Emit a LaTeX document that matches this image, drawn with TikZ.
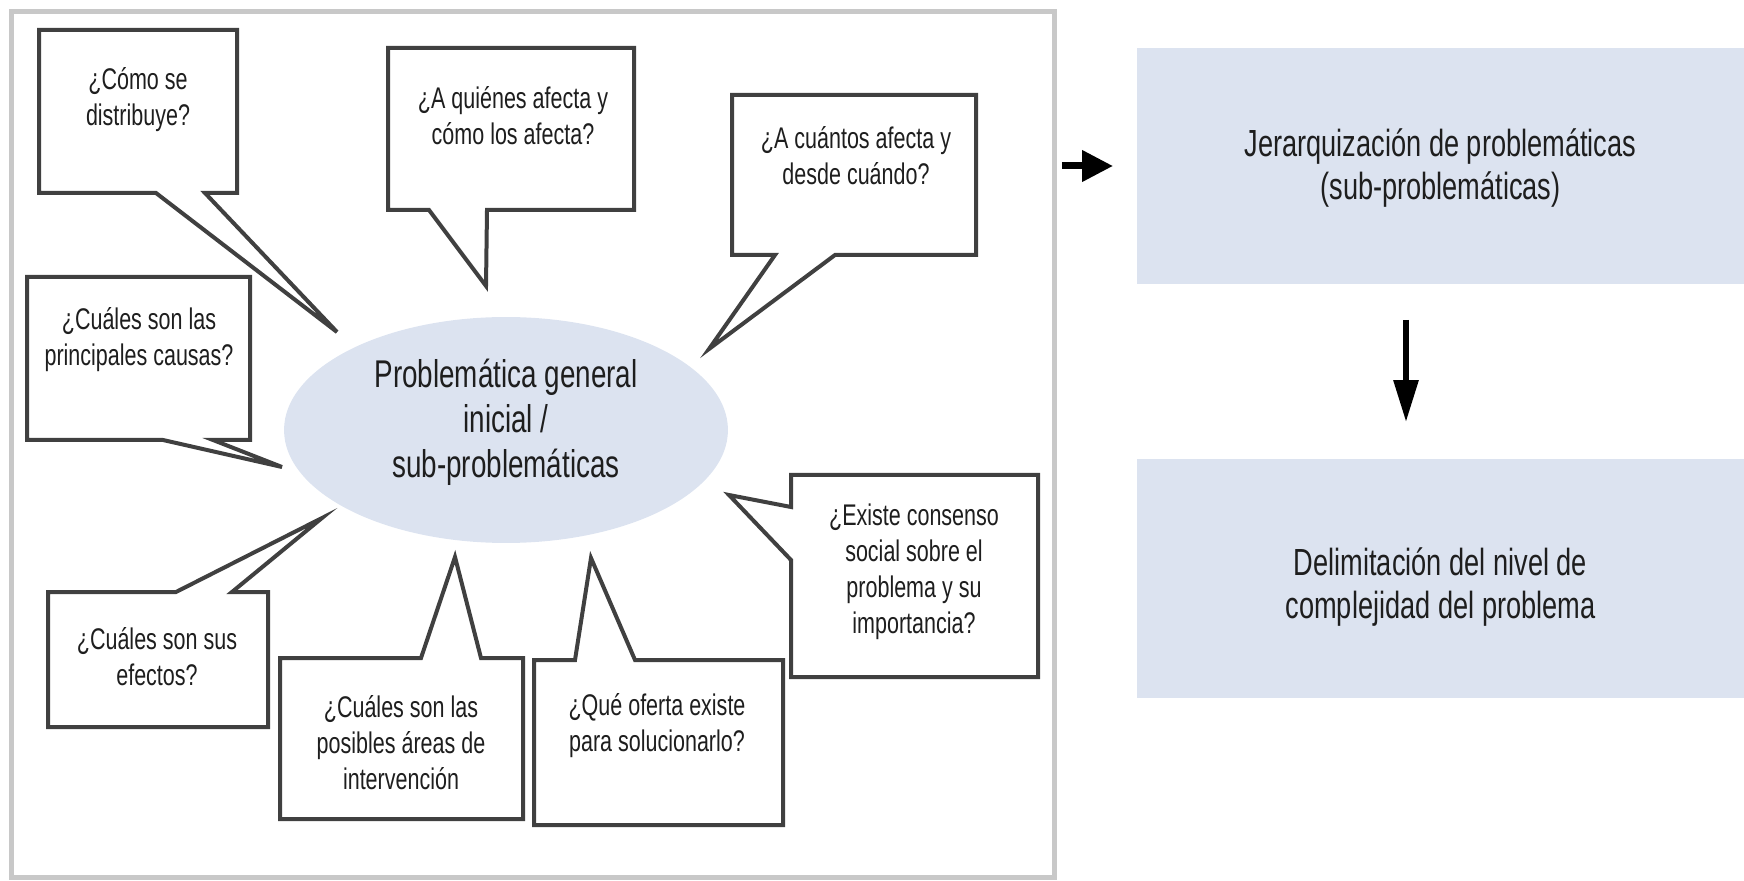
\documentclass[tikz,border=0pt]{standalone}
\usepackage{fontspec}
\setmainfont{Liberation Sans}[FakeStretch=0.72]
\usetikzlibrary{arrows.meta,shapes.geometric}
\definecolor{callgray}{HTML}{404040}
\definecolor{framegray}{HTML}{C8C8C8}
\definecolor{paleblue}{HTML}{DCE3F0}
\definecolor{txt}{HTML}{1E1E1E}
\tikzset{
  callout/.style={draw=callgray, line width=0.08cm, line join=miter, fill=white},
  qtext/.style={font=\fontsize{17}{20.5}\selectfont, align=center, inner sep=0, text=txt},
  bigtext/.style={font=\fontsize{22}{25.5}\selectfont, align=center, inner sep=0, text=txt},
  rbox/.style={fill=paleblue, minimum width=12.14cm, inner sep=0, outer sep=0},
  arr/.style={-{Triangle[length=0.62cm,width=0.6cm]}, line width=0.14cm},
  darr/.style={-{Triangle[length=0.84cm,width=0.48cm]}, line width=0.12cm},
}
\begin{document}
\begin{tikzpicture}[x=0.02cm,y=-0.02cm]
\useasboundingbox (0,0) rectangle (1744,881);
% outer frame
\node[draw=framegray, line width=0.1cm, minimum width=20.88cm, minimum height=17.34cm, inner sep=0, outer sep=0] (frame) at (533,444.5) {};
% central ellipse
\node[ellipse, fill=paleblue, minimum width=8.88cm, minimum height=4.52cm, inner sep=0] (core) at (506,430) {};
\node[bigtext] (coretext) at (506,422) {Problemática general\\inicial /\\sub-problemáticas};
% callouts
\draw[callout] (39,30) -- (237,30) -- (237,193) -- (205,193) -- (337,332) -- (156,193) -- (39,193) -- cycle;
\node[qtext] (t1) at (138,100) {¿Cómo se\\distribuye?};
\draw[callout] (388,48) -- (634,48) -- (634,210) -- (487,210) -- (486,286) -- (429,210) -- (388,210) -- cycle;
\node[qtext] (t2) at (513,116) {¿A quiénes afecta y\\cómo los afecta?};
\draw[callout] (732,95) -- (976,95) -- (976,255) -- (835,255) -- (709,349) -- (775,255) -- (732,255) -- cycle;
\node[qtext] (t3) at (856,156) {¿A cuántos afecta y\\desde cuándo?};
\draw[callout] (27,277) -- (250,277) -- (250,440) -- (213,440) -- (282,467) -- (163,440) -- (27,440) -- cycle;
\node[qtext] (t4) at (139,340) {¿Cuáles son las\\principales causas?};
\draw[callout] (48,592) -- (176,592) -- (322,518) -- (232,592) -- (268,592) -- (268,727) -- (48,727) -- cycle;
\node[qtext] (t5) at (157,657) {¿Cuáles son sus\\efectos?};
\draw[callout] (280,658) -- (421,658) -- (455,557) -- (481,658) -- (523,658) -- (523,819) -- (280,819) -- cycle;
\node[qtext] (t6) at (401,743) {¿Cuáles son las\\posibles áreas de\\intervención};
\draw[callout] (534,660) -- (575,660) -- (591,558) -- (635,660) -- (783,660) -- (783,825) -- (534,825) -- cycle;
\node[qtext] (t7) at (657,726) {¿Qué oferta existe\\para solucionarlo?};
\draw[callout] (791,475) -- (1038,475) -- (1038,677) -- (791,677) -- (791,560) -- (729,495) -- (791,507) -- cycle;
\node[qtext] (t8) at (914,572) {¿Existe consenso\\social sobre el\\problema y su\\importancia?};
% right boxes
\node[rbox, minimum height=4.72cm] (upper) at (1440.5,166) {};
\node[bigtext, font=\fontsize{21.5}{24.5}\selectfont] (uppertext) at (1440.5,168) {Jerarquización de problemáticas\\(sub-problemáticas)};
\node[rbox, minimum height=4.78cm] (lower) at (1440.5,578.5) {};
\node[bigtext, font=\fontsize{21.5}{24.5}\selectfont] (lowertext) at (1440.5,587) {Delimitación del nivel de\\complejidad del problema};
% arrows
\draw[arr, shorten <=0.14cm, shorten >=0.48cm] (frame.east |- upper.west) -- (upper.west);
\draw[darr, shorten <=0.72cm, shorten >=0.74cm] (upper.south -| 1406,0) -- (lower.north -| 1406,0);
\end{tikzpicture}
\end{document}
